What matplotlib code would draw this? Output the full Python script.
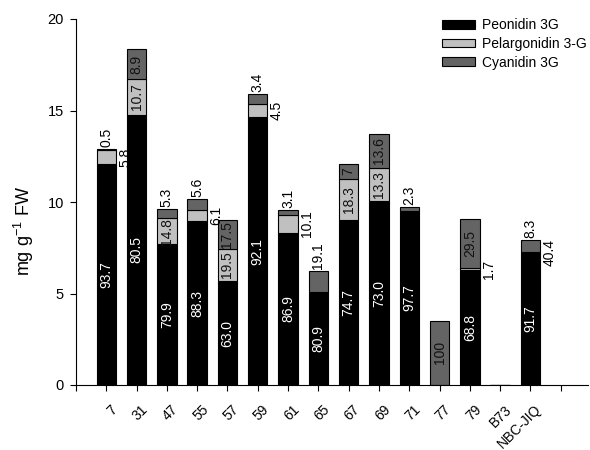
import matplotlib
matplotlib.use('Agg')
import matplotlib.pyplot as plt
from matplotlib.transforms import ScaledTranslation
import numpy as np

plt.rcParams['font.family'] = ['Liberation Sans', 'DejaVu Sans']
plt.rcParams['mathtext.default'] = 'regular'

# ---- data (mg g-1 FW) ----
categories = ['7', '31', '47', '55', '57', '59', '61', '65', '67', '69', '71', '77', '79', 'B73', 'NBC-JIQ']
peonidin = [12.09, 14.76, 7.69, 8.96, 5.68, 14.63, 8.31, 5.06, 9.04, 10.04, 9.52, 0, 6.26, 0, 7.26]
pelargonidin = [0.75, 1.96, 1.42, 0.62, 1.76, 0.71, 0.97, 0, 2.21, 1.83, 0, 0, 0.15, 0, 0]
cyanidin = [0.06, 1.63, 0.51, 0.57, 1.58, 0.54, 0.30, 1.19, 0.85, 1.87, 0.22, 3.51, 2.68, 0, 0.66]

# percentage labels
peonidin_pct = ['93.7', '80.5', '79.9', '88.3', '63.0', '92.1', '86.9', '80.9', '74.7', '73.0', '97.7', '', '68.8', '', '91.7']
pelargonidin_pct = ['5.8', '10.7', '14.8', '6.1', '19.5', '4.5', '10.1', '', '18.3', '13.3', '', '', '1.7', '', '40.4']
cyanidin_pct = ['0.5', '8.9', '5.3', '5.6', '17.5', '3.4', '3.1', '19.1', '7', '13.6', '2.3', '100', '29.5', '', '8.3']

# label placement (style)
pel_pos = ['right', 'in', 'in', 'right', 'in', 'right', 'right', '', 'in', 'in', '', '', 'right', '', 'right']
cy_pos = ['top', 'in', 'top', 'top', 'in', 'top', 'top', 'top', 'in', 'in', 'top', 'in', 'in', '', 'top']

# ---- figure ----
fig = plt.figure(figsize=(5.9, 4.5), dpi=100)
ax = fig.add_axes([76 / 590, 65 / 450, 512 / 590, 366 / 450])

x = np.arange(len(categories))
w = 0.64
c_peo, c_pel, c_cy = '#000000', '#c0c0c0', '#646464'
lw = 0.8

bot2 = np.array(peonidin)
bot3 = bot2 + np.array(pelargonidin)
tops = bot3 + np.array(cyanidin)

ax.bar(x, peonidin, w, color=c_peo, edgecolor='black', linewidth=lw, label='Peonidin 3G', zorder=2)
ax.bar(x, pelargonidin, w, bottom=bot2, color=c_pel, edgecolor='black', linewidth=lw, label='Pelargonidin 3-G', zorder=2)
ax.bar(x, cyanidin, w, bottom=bot3, color=c_cy, edgecolor='black', linewidth=lw, label='Cyanidin 3G', zorder=2)

fs = 10
for i in range(len(categories)):
    # peonidin labels (inside, white)
    if peonidin_pct[i]:
        ax.text(x[i], peonidin[i] / 2, peonidin_pct[i], rotation=90, ha='center', va='center',
                color='white', fontsize=fs, zorder=3)
    # pelargonidin labels
    if pelargonidin_pct[i]:
        if pel_pos[i] == 'in':
            ax.text(x[i], bot2[i] + pelargonidin[i] / 2, pelargonidin_pct[i], rotation=90,
                    ha='center', va='center', color='#111111', fontsize=fs, zorder=3)
        elif pel_pos[i] == 'right':
            ax.annotate(pelargonidin_pct[i], (x[i] + w / 2, bot2[i] + pelargonidin[i] / 2),
                        xytext=(1.5, 0), textcoords='offset points', rotation=90,
                        ha='left', va='center', color='black', fontsize=fs, zorder=3)
    # cyanidin labels
    if cyanidin_pct[i]:
        if cy_pos[i] == 'in':
            ax.text(x[i], bot3[i] + cyanidin[i] / 2, cyanidin_pct[i], rotation=90,
                    ha='center', va='center', color='#111111', fontsize=fs, zorder=3)
        elif cy_pos[i] == 'top':
            ax.annotate(cyanidin_pct[i], (x[i], tops[i]), xytext=(0, 1.5),
                        textcoords='offset points', rotation=90, ha='center', va='bottom',
                        color='black', fontsize=fs, zorder=3)

# ---- axes styling ----
ax.set_ylim(0, 20)
ax.set_yticks([0, 5, 10, 15, 20])
ax.set_xlim(-1, 15.9)
ax.set_xticks(np.arange(-1, 16))
ax.set_xticklabels([''] + categories + [''], rotation=45, ha='right', va='center',
                   rotation_mode='anchor', fontsize=10)
ax.tick_params(axis='x', direction='out', length=4.3, width=0.8, pad=11.8)
ax.tick_params(axis='y', direction='out', length=4.3, width=0.8, pad=4.5, labelsize=10.5)
for s in ['top', 'right']:
    ax.spines[s].set_visible(False)
for s in ['left', 'bottom']:
    ax.spines[s].set_linewidth(0.8)

offset = ScaledTranslation(9 / 100, 0, fig.dpi_scale_trans)
for lab in ax.get_xticklabels():
    lab.set_transform(lab.get_transform() + offset)

ax.set_ylabel('mg g$^{-1}$ FW', fontsize=13)
ax.yaxis.set_label_coords(-0.078, 0.42)

ax.legend(loc='upper left', bbox_to_anchor=(442 / 590, 1 - 18 / 450),
          bbox_transform=fig.transFigure, frameon=False, fontsize=10,
          handlelength=2.4, handleheight=0.6, handletextpad=0.5, labelspacing=0.35,
          borderpad=0, borderaxespad=0)

fig.savefig('out.png', dpi=100)
